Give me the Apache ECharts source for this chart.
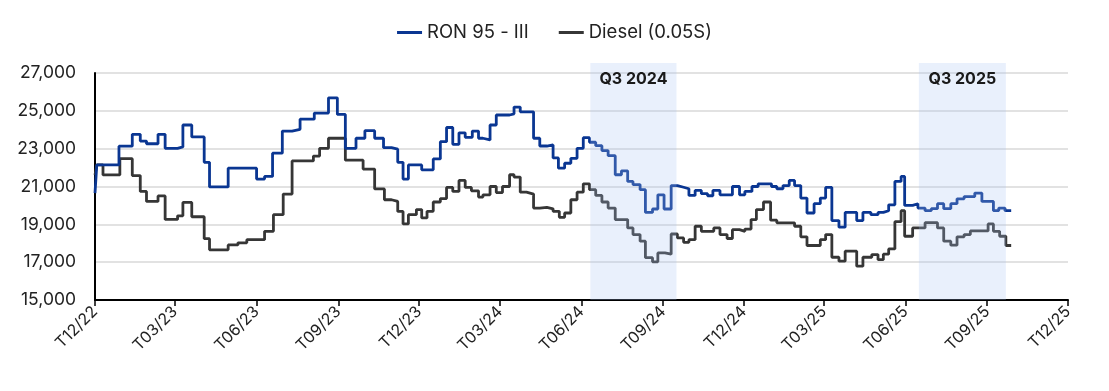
<!DOCTYPE html>
<html>
<head>
<meta charset="utf-8">
<script src="https://cdn.jsdelivr.net/npm/echarts@6/dist/echarts.min.js"></script>
<style>
html,body{margin:0;padding:0;background:#fff;}
#chart{width:1109px;height:391px;}
</style>
</head>
<body>
<div id="chart"></div>
<script>
var seriesNames = ['RON 95 - III', 'Diesel (0.05S)'];

var ronDates = ['2022-12-01','2022-12-03','2022-12-28','2023-01-12','2023-01-21','2023-01-28','2023-02-10','2023-02-18','2023-03-04','2023-03-10',
'2023-03-20','2023-04-03','2023-04-09','2023-04-30','2023-06-01','2023-06-10','2023-06-19','2023-06-30','2023-07-11','2023-07-20',
'2023-08-05','2023-08-21','2023-08-31','2023-09-09','2023-09-21','2023-10-01','2023-10-12','2023-10-22','2023-10-31','2023-11-07',
'2023-11-13','2023-11-19','2023-12-04','2023-12-17','2023-12-25','2024-01-01','2024-01-08','2024-01-15','2024-01-22','2024-01-30',
'2024-02-06','2024-02-11','2024-02-19','2024-02-26','2024-03-12','2024-03-17','2024-03-24','2024-04-08','2024-04-15','2024-04-23',
'2024-04-30','2024-05-06','2024-05-13','2024-05-20','2024-05-27','2024-06-03','2024-06-10','2024-06-17','2024-06-24','2024-07-01',
'2024-07-09','2024-07-16','2024-07-23','2024-07-29','2024-08-06','2024-08-12','2024-08-20','2024-08-26','2024-09-02','2024-09-10',
'2024-09-17','2024-09-24','2024-09-30','2024-10-07','2024-10-14','2024-10-21','2024-10-27','2024-11-04','2024-11-18','2024-11-26',
'2024-12-02','2024-12-10','2024-12-17','2025-01-01','2025-01-07','2025-01-14','2025-01-21','2025-01-27','2025-02-03','2025-02-10',
'2025-02-18','2025-02-25','2025-03-03','2025-03-10','2025-03-18','2025-03-25','2025-04-07','2025-04-14','2025-04-23','2025-05-01',
'2025-05-07','2025-05-13','2025-05-20','2025-05-27','2025-05-31','2025-06-09','2025-06-15','2025-06-23','2025-06-30','2025-07-07',
'2025-07-14','2025-07-22','2025-07-29','2025-08-06','2025-08-18','2025-08-26','2025-09-08','2025-09-14','2025-09-21','2025-09-28'];

var ronValues = [20650,22140,23130,23760,23400,23260,23760,23020,23090,24250,
23620,22280,20980,21970,21390,21530,22760,23930,24020,24560,
24880,25690,24810,23020,23550,23950,23550,23050,22970,22280,
21390,22140,21880,22460,23370,24120,23230,23840,23600,23930,
23550,23460,24250,24780,24840,25200,24950,23550,23140,23200,
22510,21970,22230,22490,23020,23580,23340,23160,22900,22630,
21620,21830,21270,21100,20830,19630,19810,20560,19810,21050,
20960,20880,20530,20790,20620,20510,20790,20560,21000,20560,
20740,21000,21140,21000,20880,21050,21320,21050,20390,19600,
20090,20390,20950,19200,18850,19630,19200,19630,19510,19630,
19720,20030,21270,21530,20000,20090,19860,19720,19830,20090,
19830,20090,20350,20470,20650,20210,19720,19860,19720,19720];

var dieselDates = ['2022-12-01','2022-12-03','2022-12-10','2022-12-29','2023-01-12','2023-01-21','2023-01-28','2023-02-10','2023-02-18','2023-03-04',
'2023-03-10','2023-03-20','2023-04-03','2023-04-09','2023-04-30','2023-05-11','2023-05-21','2023-06-10','2023-06-20','2023-07-01',
'2023-07-11','2023-08-04','2023-08-11','2023-08-21','2023-09-09','2023-09-29','2023-10-12','2023-10-23','2023-10-31','2023-11-07',
'2023-11-13','2023-11-19','2023-11-28','2023-12-04','2023-12-10','2023-12-17','2023-12-25','2024-01-01','2024-01-08','2024-01-15',
'2024-01-22','2024-01-29','2024-02-06','2024-02-11','2024-02-19','2024-02-26','2024-03-04','2024-03-12','2024-03-17','2024-03-24',
'2024-03-31','2024-04-08','2024-04-15','2024-04-23','2024-04-30','2024-05-07','2024-05-13','2024-05-20','2024-05-27','2024-06-03',
'2024-06-10','2024-06-17','2024-06-24','2024-07-01','2024-07-09','2024-07-23','2024-07-29','2024-08-06','2024-08-12','2024-08-20',
'2024-08-26','2024-09-03','2024-09-10','2024-09-17','2024-09-24','2024-09-30','2024-10-07','2024-10-14','2024-10-28','2024-11-04',
'2024-11-12','2024-11-18','2024-11-26','2024-12-02','2024-12-09','2024-12-15','2024-12-23','2024-12-31','2025-01-07','2025-01-27',
'2025-02-03','2025-02-10','2025-02-25','2025-03-03','2025-03-10','2025-03-18','2025-03-25','2025-04-07','2025-04-14','2025-04-24',
'2025-05-01','2025-05-07','2025-05-13','2025-05-20','2025-05-27','2025-05-31','2025-06-09','2025-06-23','2025-07-07','2025-07-14',
'2025-07-22','2025-07-29','2025-08-06','2025-08-13','2025-09-02','2025-09-08','2025-09-15','2025-09-22','2025-09-28'];

var dieselValues = [21610,22140,21610,22470,21580,20740,20210,20500,19260,19450,
20160,19400,18240,17650,17910,18020,18190,18630,19510,20600,
22350,22610,23020,23550,22390,21920,20870,20300,20210,19680,
19020,19510,19780,19340,19690,20180,20360,20950,20740,21320,
20950,20770,20440,20560,21000,20680,21000,21620,21500,20700,
20600,19860,19900,19820,19690,19370,19600,20300,20700,21140,
20830,20530,20180,19860,19250,18810,18460,18110,17240,17020,
17490,17420,18490,18280,18050,18190,18900,18630,18810,18460,
18250,18720,18630,18750,19250,19780,20180,19220,19080,18900,
18340,17880,18190,18460,17260,17050,17580,16790,17260,17400,
17130,17420,17700,19140,19720,18370,18810,19090,18810,18110,
17900,18340,18460,18650,19020,18630,18370,17880,17880];

var tickDates = ['2022-12-01','2023-03-01','2023-06-01','2023-09-01','2023-12-01','2024-03-01','2024-06-01','2024-09-01','2024-12-01','2025-03-01','2025-06-01','2025-09-01','2025-12-01'];
var tickLabels = ['T12/22','T03/23','T06/23','T09/23','T12/23','T03/24','T06/24','T09/24','T12/24','T03/25','T06/25','T09/25','T12/25'];

var bandNames = ['Q3 2024', 'Q3 2025'];
var bandStarts = ['2024-06-11', '2025-06-16'];
var bandEnds = ['2024-09-16', '2025-09-22'];

var yMin = 15000, yMax = 27000, yStep = 2000;

function ts(s) {
  var p = s.split('-');
  return Date.UTC(+p[0], +p[1] - 1, +p[2]);
}
var tickTs = tickDates.map(ts);
var labelByTs = {};
tickTs.forEach(function (t, i) { labelByTs[t] = tickLabels[i]; });

var FONT = 'Inter';
var chart = echarts.init(document.getElementById('chart'), null, {renderer: 'canvas'});
chart.setOption({
  animation: false,
  backgroundColor: '#ffffff',
  textStyle: {fontFamily: FONT},
  legend: {
    top: 18,
    left: 'center',
    icon: 'rect',
    itemWidth: 25,
    itemHeight: 3,
    itemGap: 30,
    textStyle: {fontFamily: FONT, fontSize: 18.5, color: '#222'},
    data: seriesNames
  },
  grid: {left: 95, right: 41, top: 73, bottom: 91, containLabel: false},
  xAxis: {
    type: 'value',
    min: tickTs[0],
    max: tickTs[tickTs.length - 1],
    axisLine: {show: true, onZero: false, lineStyle: {color: '#000', width: 2}},
    axisTick: {show: true, length: 6, lineStyle: {color: '#000', width: 1.5}, customValues: tickTs},
    axisLabel: {
      customValues: tickTs,
      rotate: 45,
      margin: 9,
      fontFamily: FONT,
      fontSize: 16,
      color: '#222',
      formatter: function (v) { return labelByTs[v] || ''; }
    },
    splitLine: {show: false}
  },
  yAxis: {
    type: 'value',
    min: yMin,
    max: yMax,
    interval: yStep,
    axisLine: {show: true, lineStyle: {color: '#000', width: 2}},
    axisTick: {show: false},
    axisLabel: {
      fontFamily: FONT,
      fontSize: 17.5,
      color: '#222',
      margin: 19,
      formatter: function (v) { return v.toLocaleString('en-US'); }
    },
    splitLine: {show: true, lineStyle: {color: '#d9d9d9', width: 1.5}}
  },
  series: [
    {
      name: seriesNames[0],
      type: 'line',
      step: 'end',
      showSymbol: false,
      symbol: 'none',
      z: 3,
      color: '#0a3692',
      lineStyle: {color: '#0a3692', width: 2.8},
      data: ronDates.map(function (d, i) { return [ts(d), ronValues[i]]; })
    },
    {
      name: seriesNames[1],
      type: 'line',
      step: 'end',
      showSymbol: false,
      symbol: 'none',
      z: 2,
      color: '#363636',
      lineStyle: {color: '#363636', width: 2.8},
      data: dieselDates.map(function (d, i) { return [ts(d), dieselValues[i]]; })
    },
    {
      name: 'bands',
      type: 'line',
      data: [],
      clip: false,
      z: 10,
      markArea: {
        silent: true,
        z: 10,
        itemStyle: {color: 'rgba(167,195,243,0.25)'},
        label: {
          show: true,
          position: 'insideTop',
          distance: 8,
          fontFamily: FONT,
          fontSize: 16,
          fontWeight: 'bold',
          color: '#1a1a1a'
        },
        data: bandNames.map(function (n, i) {
          return [{name: n, xAxis: ts(bandStarts[i]), y: 63}, {xAxis: ts(bandEnds[i]), y: 300}];
        })
      }
    }
  ]
});
</script>
</body>
</html>
